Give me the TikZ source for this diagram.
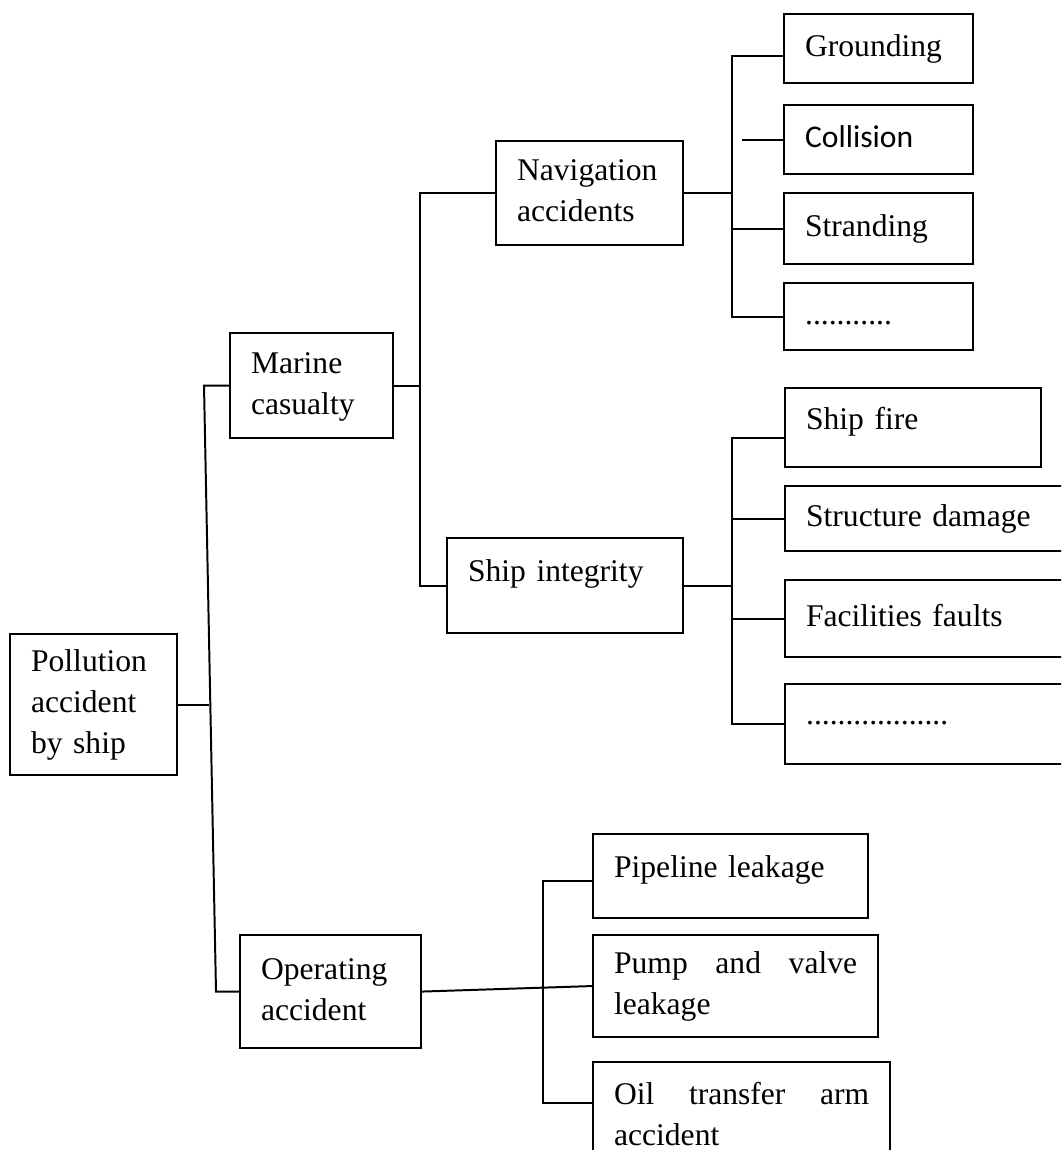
\documentclass[tikz,border=0pt]{standalone}
\usepackage{fontspec}
\setmainfont{Liberation Serif}
\newfontfamily\calibri{Carlito}
\usetikzlibrary{positioning}
\newcommand{\pxu}{0.38pt}
\hyphenpenalty=10000

\begin{document}
\begin{tikzpicture}[
  x=0.38pt, y=-0.38pt,
  font=\fontsize{12pt}{15.6pt}\selectfont,
  box/.style n args={2}{draw,line width=0.8pt,anchor=north west,
      inner xsep=8pt,inner ysep=0pt,
      minimum width=#1*\pxu,minimum height=#2*\pxu,
      /utils/exec={\pgfmathsetlengthmacro\boxtw{(#1-42)*\pxu}},
      text width=\boxtw,align=left,
      execute at begin node=\strut,execute at end node=\strut},
  jbox/.style={align=justify},
  ln/.style={line width=0.75pt}
]
  \useasboundingbox (0,0) rectangle (1061,1150);
  \clip (0,0) rectangle (1061,1150);

  \node[box={167}{141}] (root) at (9,633) {Pollution\\accident\\by ship};
  \node[box={163}{105}] (marine) at (229,332) {Marine\\casualty};
  \node[box={181}{113}] (op) at (239,934) {Operating\\accident};

  \node[box={187}{104}] (nav) at (495,140) {Navigation\\accidents};
  \node[box={236}{95},text depth=14pt] (si) at (446,537) {Ship integrity};

  \node[box={189}{69}] (gr) at (783,13) {Grounding};
  \node[box={189}{69}] (co) at (783,104) {\calibri Collision};
  \node[box={189}{71}] (st) at (783,192) {Stranding};
  \node[box={189}{67}] (dd1) at (783,282) {...........};

  \node[box={256}{79},text depth=9.8pt] (sf) at (784,387) {Ship fire};
  \node[box={291}{65}] (sd) at (784,485) {Structure damage};
  \node[box={291}{77}] (ff) at (784,579) {Facilities faults};
  \node[box={291}{80},text depth=10.9pt] (dd2) at (784,683) {..................};

  \node[box={275}{84},text depth=10.1pt] (pl) at (592,833) {Pipeline leakage};
  \node[box={285}{102},jbox] (pu) at (592,934) {Pump and valve leakage};
  \node[box={297}{109},jbox] (oil) at (592,1061) {Oil transfer arm accident};

  \coordinate (j1t) at (204,0);
  \coordinate (j1m) at (209,0);
  \coordinate (j1b) at (216,0);
  \coordinate (j2) at (420,0);
  \coordinate (j3) at (732,0);
  \coordinate (cof) at (742,0);
  \coordinate (j5) at (543,0);

  \draw[ln] (root.east) -- (root.east -| j1m);
  \draw[ln] (marine.west) -- (marine.west -| j1t) -- (op.west -| j1b) -- (op.west);

  \draw[ln] (marine.east) -- (marine.east -| j2);
  \draw[ln] (nav.west) -- (nav.west -| j2) -- (si.west -| j2) -- (si.west);

  \draw[ln] (nav.east) -- (nav.east -| j3);
  \draw[ln] ([yshift=-3pt]gr.west) -| (dd1.west -| j3) -- (dd1.west);
  \draw[ln] (co.west) -- (co.west -| cof);

  \draw[ln] (si.east) -- (si.east -| j3);
  \draw[ln] ([yshift=-4pt]sf.west) -| (dd2.west -| j3) -- (dd2.west);
  \foreach \b in {st,sd,ff}
    \draw[ln] (\b.west) -- (\b.west -| j3);

  \draw[ln] (op.east) -- (pu.west);
  \draw[ln] ([yshift=-2pt]pl.west) -| ([yshift=5pt]oil.west -| j5) -- ([yshift=5pt]oil.west);
\end{tikzpicture}
\end{document}
